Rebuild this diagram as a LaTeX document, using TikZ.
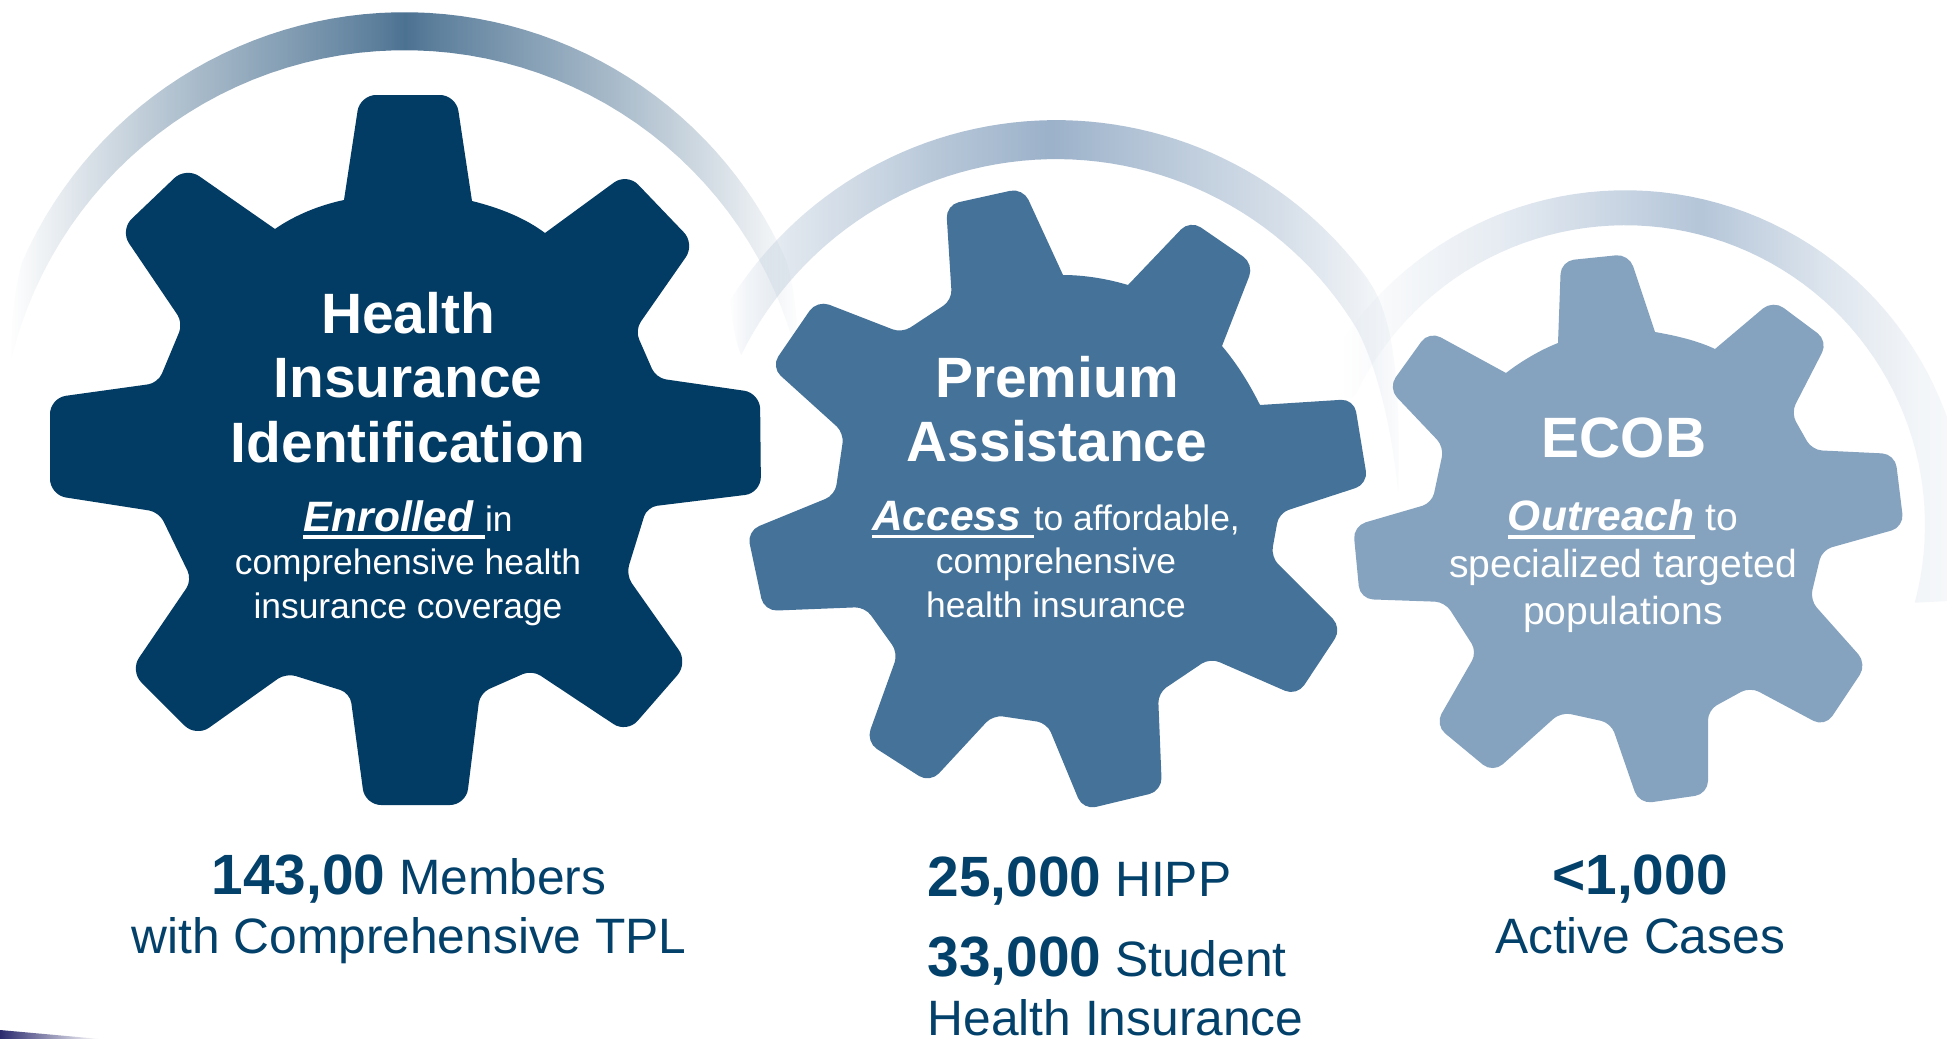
\documentclass[tikz,border=0pt]{standalone}
\usepackage{fontspec}
\setmainfont{Liberation Sans}
\usetikzlibrary{fadings}
\definecolor{gearA}{HTML}{023B63}
\definecolor{gearB}{HTML}{447299}
\definecolor{gearC}{HTML}{85A3BF}
\definecolor{numtext}{HTML}{03416B}
\definecolor{arcA}{HTML}{4C7292}
\definecolor{arcB}{HTML}{9CB2CA}
\definecolor{arcC}{HTML}{B5C6D9}
\definecolor{wedge}{HTML}{2B2A6E}
\pgfdeclarehorizontalshading{arcAshade}{100bp}{color(0bp)=(black);color(25bp)=(black);color(26.2bp)=(black!95);color(29.5bp)=(black!81);color(35.7bp)=(black!56);color(43.35bp)=(black!28);color(48.1bp)=(black!10);color(50bp)=(white);color(51.9bp)=(black!10);color(56.65bp)=(black!28);color(64.3bp)=(black!56);color(70.5bp)=(black!81);color(73.8bp)=(black!95);color(75bp)=(black);color(100bp)=(black)}
\pgfdeclarehorizontalshading{arcBshade}{100bp}{color(0bp)=(black);color(25bp)=(black);color(26.25bp)=(black!88);color(29.5bp)=(black!69);color(34.25bp)=(black!53);color(40.5bp)=(black!28);color(48.85bp)=(white);color(56.75bp)=(black!28);color(66.5bp)=(black!60);color(72bp)=(black!83);color(75bp)=(black!97);color(100bp)=(black!97)}
\pgfdeclarehorizontalshading{arcCshade}{100bp}{color(0bp)=(black);color(27.5bp)=(black);color(31bp)=(black!90);color(39.5bp)=(black!66);color(46.5bp)=(black!35);color(54.5bp)=(white);color(64.5bp)=(black!57);color(71bp)=(black!84);color(75bp)=(black!90);color(100bp)=(black!90)}
\pgfdeclarefading{arcAfade}{\pgfuseshading{arcAshade}}
\pgfdeclarefading{arcBfade}{\pgfuseshading{arcBshade}}
\pgfdeclarefading{arcCfade}{\pgfuseshading{arcCshade}}
\newcommand{\myul}[1]{\setbox0\hbox{#1}\rlap{\rule[-8pt]{\wd0}{3.8pt}}\box0 }
\newcommand{\bignum}[1]{{\fontsize{56.8}{59}\selectfont\bfseries #1}}
\tikzset{
  tipA/.style={rounded corners=16pt},
  tip/.style={rounded corners=13pt},
  val/.style={rounded corners=10pt},
  gtitle/.style={text=white, anchor=north, align=center, inner sep=0pt, font=\fontsize{56.9}{64.5}\selectfont\bfseries},
  gdesc/.style={text=white, anchor=north, align=center, inner sep=0pt, font=\fontsize{35.4}{43.5}\selectfont},
  gdescw/.style={text=white, anchor=north, align=center, inner sep=0pt, font=\fontsize{39.1}{47}\selectfont},
  numbers/.style={text=numtext, inner sep=0pt, font=\fontsize{49.7}{59}\selectfont}
}
\newcommand{\bi}[1]{{\fontsize{42.5}{43}\selectfont\bfseries\itshape #1}}
\begin{document}
\begin{tikzpicture}[x=1pt,y=-1pt]
\useasboundingbox (0,0) rectangle (1947,1039);
\fill[white] (0,0) rectangle (1947,1039);

% crescents
\fill[arcA, path fading=arcAfade]
  (11,360) .. controls (11,330) and (14,290) .. (23,260)
  -- plot[domain=156:24,samples=60,variable=\t] ({405+418*cos(\t)},{430-418*sin(\t)})
  .. controls (796,290) and (799,330) .. (799,360)
  -- plot[domain=13.6:166.4,samples=60,variable=\t] ({405+405*cos(\t)},{455-405*sin(\t)}) -- cycle;
\fill[arcB, path fading=arcBfade]
  (730,300) .. controls (732,320) and (735,340) .. (741,355)
  -- plot[domain=153.8:31,samples=60,variable=\t] ({1056+351*cos(\t)},{510-351*sin(\t)})
  .. controls (1378,370) and (1392,430) .. (1398,493)
  .. controls (1400,400) and (1397,320) .. (1368,280)
  -- plot[domain=35.8:147.8,samples=60,variable=\t] ({1056+385*cos(\t)},{505-385*sin(\t)}) -- cycle;
\fill[arcC, path fading=arcCfade]
  (1320,400) .. controls (1330,398) and (1345,398) .. (1354,397)
  -- plot[domain=154:-15,samples=70,variable=\t] ({1626+300*cos(\t)},{525-300*sin(\t)})
  -- (1970,600)
  -- plot[domain=-11:157,samples=70,variable=\t] ({1626+342*cos(\t)},{532-342*sin(\t)}) -- cycle;

% corner wedge
\shade[left color=wedge, right color=white] (0,1030) -- (100,1039) -- (0,1039) -- cycle;

% gear 1
\fill[gearA]
  (344,200) [tipA] -- (360,95) -- (456,95) [sharp corners] -- (472,201)
  .. controls (500,208) and (525,218) .. (545,233)
  [tipA] -- (627,173) -- (695,244)
  [val] -- (635,330) -- (656,378)
  [tipA] -- (760,393) -- (761,493)
  [val] -- (647,507) -- (626,575)
  [tipA] -- (688,663) -- (627,733)
  [val] -- (532,670) -- (480,693)
  [tipA] -- (466,805) -- (365,805)
  [val] -- (350,693) -- (286,673)
  [tipA] -- (196,737) -- (130,671)
  [val] -- (192,580) -- (159,512)
  [tipA] -- (50,495) -- (50,398)
  [val] -- (158,383) -- (183,323)
  [tipA] -- (120,230) -- (186,167)
  [sharp corners] -- (275,229)
  .. controls (295,215) and (320,205) .. (344,200) -- cycle;

% gear 2
\fill[gearB]
  (1063,275) [tip] -- (1023,188) -- (946,205)
  [val] -- (952,300) -- (902,333)
  [tip] -- (817,300) -- (771,367)
  [val] -- (844,433) -- (835,495)
  [tip] -- (747,531) -- (764,611)
  [val] -- (865,607) -- (898,653)
  [tip] -- (866,742) -- (930,783)
  [val] -- (993,715) -- (1047,723)
  [tip] -- (1083,810) -- (1162,791)
  [val] -- (1158,693) -- (1210,658)
  [tip] -- (1297,696) -- (1342,628)
  [val] -- (1271,557) -- (1279,513)
  [tip] -- (1368,484) -- (1354,399)
  [sharp corners] -- (1260,405)
  .. controls (1250,385) and (1238,365) .. (1222,346)
  [tip] -- (1254,264) -- (1190,220)
  [sharp corners] -- (1128,285)
  .. controls (1108,279) and (1085,275) .. (1063,275) -- cycle;

% gear 3
\fill[gearC]
  (1558,343) [tip] -- (1561,261) -- (1629,254)
  [sharp corners] -- (1655,332)
  .. controls (1678,336) and (1698,341) .. (1715,349)
  [tip] -- (1773,300) -- (1828,341)
  [val] -- (1791,413) -- (1812,450)
  [tip] -- (1895,454) -- (1904,527)
  [val] -- (1822,550) -- (1810,600)
  [tip] -- (1867,664) -- (1825,727)
  [val] -- (1750,687) -- (1708,710)
  [tip] -- (1708,794) -- (1639,804)
  [val] -- (1611,723) -- (1561,712)
  [tip] -- (1493,773) -- (1435,725)
  [val] -- (1477,652) -- (1445,602)
  [tip] -- (1360,599) -- (1353,526)
  [val] -- (1432,503) -- (1444,447)
  [tip] -- (1388,388) -- (1429,331)
  [sharp corners] -- (1506,373)
  .. controls (1520,362) and (1540,350) .. (1558,343) -- cycle;

% gear text
\node[gtitle] (t1) at (408,292) {Health\\Insurance\\Identification};
\node[gdesc] (d1) at (408,500) {\myul{\bi{Enrolled\ }}in\\comprehensive health\\insurance coverage};
\node[gtitle] (t2) at (1057,356) {Premium\\Assistance};
\node[gdesc] (d2) at (1056,501) {\myul{\bi{Access\ \kern1pt}}to affordable,\\comprehensive\\health insurance};
\node[gtitle] (t3) at (1624,418) {ECOB};
\node[gdescw] (d3) at (1623,499.5) {\myul{\bi{Outreach}} to\\specialized targeted\\populations};

% figures
\node[numbers, anchor=north, align=center] (n1) at (409,854.5) {\bignum{143,00} Members\\with Comprehensive TPL};
\node[numbers, anchor=north west, align=left] (n2) at (927.5,857) {\bignum{25,000} HIPP\\[21pt]\bignum{33,000} Student\\Health Insurance};
\node[numbers, anchor=north, align=center] (n3) at (1640,854.5) {\bignum{<1,000}\\Active Cases};
\end{tikzpicture}
\end{document}
